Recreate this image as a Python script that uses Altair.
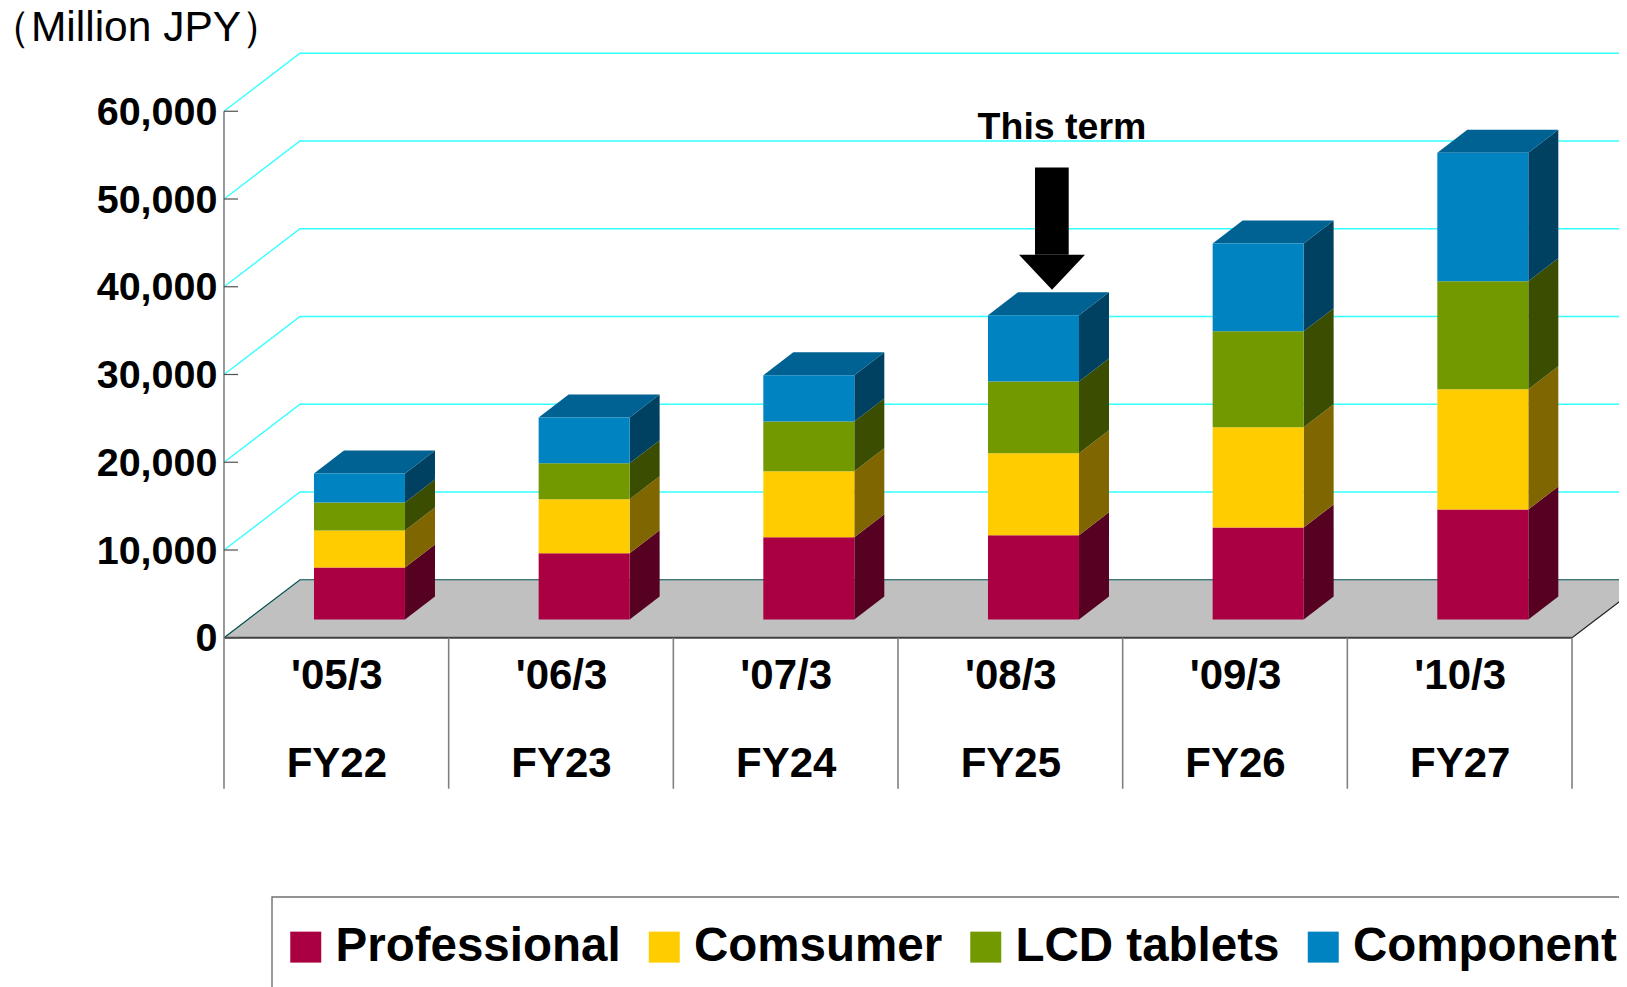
import altair as alt
import pandas as pd

# ---- data (million JPY) ----
periods = ["'05/3", "'06/3", "'07/3", "'08/3", "'09/3", "'10/3"]
fiscal = ["FY22", "FY23", "FY24", "FY25", "FY26", "FY27"]
series = ["Professional", "Comsumer", "LCD tablets", "Component"]
professional = [5930, 7555, 9380, 9605, 10485, 12535]
consumer = [4215, 6155, 7520, 9345, 11430, 13710]
lcd = [3190, 4105, 5665, 8170, 10940, 12310]
component = [3305, 5210, 5275, 7555, 9995, 14630]
ticks = [0, 10000, 20000, 30000, 40000, 50000, 60000]

front = ["#AA0042", "#FFCC00", "#739900", "#0083C1"]
side = ["#560022", "#806600", "#3A4D00", "#004162"]
top_face = "#006293"
FONT = "Liberation Sans"

# ---- geometry ----
W, H = 1611, 979
PX_X, PX_Y = 224.67, 87.75 / 10000  # px per category, px per unit
X0, Y0 = 224 - 8, 637.75 - 8       # where category 0 and value 0 fall
xs = alt.Scale(domain=[-X0 / PX_X, (W - X0) / PX_X], range=[0, W], nice=False, zero=False)
ys = alt.Scale(domain=[(Y0 - H) / PX_Y, Y0 / PX_Y], range=[H, 0], nice=False, zero=False)


def ux(px):
    return px / PX_X


def uy(px):
    return px / PX_Y


DEPTH_X, DEPTH_Y = ux(76), uy(58)      # floor / wall depth
BAR_X, BAR_Y = ux(30), uy(23)          # bar depth
BAR_W, BAR_C = ux(91), 0.603           # bar width, bar centre in its slot
LIFT = uy(18.25)                       # bars stand on the middle of the floor
N = len(periods)

label_rows = "[" + ",".join('["%s","%s"]' % (p, f) for p, f in zip(periods, fiscal)) + "]"

x_axis = alt.Axis(
    orient="bottom",
    offset=-(H + 8 - 638),
    values=[i + 0.5 for i in range(N)],
    domain=False,
    ticks=False,
    grid=False,
    labelExpr=label_rows + "[floor(datum.value)]",
    labelFont=FONT,
    labelFontWeight="bold",
    labelFontSize=42,
    labelColor="black",
    labelPadding=17,
    labelLineHeight=88,
    labelBaseline="top",
    labelFlush=False,
    labelOverlap=False,
)
y_axis = alt.Axis(
    orient="left",
    offset=-X0,
    values=ticks,
    domain=False,
    ticks=False,
    grid=False,
    format=",d",
    labelFont=FONT,
    labelFontWeight="bold",
    labelFontSize=39.5,
    labelColor="black",
    labelPadding=7,
    labelOffset=1,
    labelFlush=False,
    labelOverlap=False,
)


def X(f):
    return alt.X(f, type="quantitative", scale=xs, title=None, axis=x_axis)


def Y(f):
    return alt.Y(f, type="quantitative", scale=ys, title=None, stack=None, axis=y_axis)


# ---- tables ----
cols = [professional, consumer, lcd, component]
fr, sd, tp = [], [], []
for i in range(N):
    left = i + BAR_C - BAR_W / 2
    right = left + BAR_W
    base = LIFT
    for s, name in enumerate(series):
        v = cols[s][i]
        fr.append(dict(x=left, x2=right, y=base, y2=base + v, series=name, value=v, period=periods[i]))
        sd.append(dict(g=f"{i}", s=s, x=right, y=base, y2=base + v))
        sd.append(dict(g=f"{i}", s=s, x=right + BAR_X, y=base + BAR_Y, y2=base + v + BAR_Y))
        base += v
    tp.append(dict(g=f"{i}", y=base, x=left, x2=right))
    tp.append(dict(g=f"{i}", y=base + BAR_Y, x=left + BAR_X, x2=right + BAR_X))
fr, sd, tp = pd.DataFrame(fr), pd.DataFrame(sd), pd.DataFrame(tp)

grid = []
far = N + ux(200)
for t in ticks[1:]:
    grid.append(dict(t=t, o=0, x=0, y=t))
    grid.append(dict(t=t, o=1, x=DEPTH_X, y=t + DEPTH_Y))
    grid.append(dict(t=t, o=2, x=far, y=t + DEPTH_Y))
grid = pd.DataFrame(grid)

floor = pd.DataFrame([dict(y=0, x=0, x2=N), dict(y=DEPTH_Y, x=DEPTH_X, x2=N + DEPTH_X)])
floor_edge = pd.DataFrame(
    [dict(o=0, x=0, y=0), dict(o=1, x=DEPTH_X, y=DEPTH_Y), dict(o=2, x=far, y=DEPTH_Y)]
)
right_edge = pd.DataFrame([dict(o=0, x=N, y=0), dict(o=1, x=N + DEPTH_X, y=DEPTH_Y)])

slots = pd.DataFrame({"x": [float(i) for i in range(N + 1)], "y": [0.0] * (N + 1), "y2": [uy(-151)] * (N + 1)})
tick_df = pd.DataFrame({"y": ticks, "x": [0.0] * len(ticks), "x2": [ux(14)] * len(ticks)})

grid_l = alt.Chart(grid).mark_line(color="#33FFFF", strokeWidth=1.3, clip=True).encode(
    x=X("x"), y=Y("y"), detail="t:N", order="o:Q"
)
floor_l = alt.Chart(floor).mark_area(color="#C0C0C0", orient="horizontal", clip=True).encode(
    y=Y("y"), x=X("x"), x2="x2"
)
floor_e = alt.Chart(floor_edge).mark_line(color="#004D4D", strokeWidth=1.2, clip=True).encode(
    x=X("x"), y=Y("y"), order="o:Q"
)
right_e = alt.Chart(right_edge).mark_line(color="#222222", strokeWidth=1.2, clip=True).encode(
    x=X("x"), y=Y("y"), order="o:Q"
)
front_line = alt.Chart(pd.DataFrame({"x": [0.0], "x2": [float(N)], "y": [0.0]})).mark_rule(
    color="#404040", strokeWidth=2
).encode(x=X("x"), x2="x2", y=Y("y"))
yaxis_line = alt.Chart(pd.DataFrame({"x": [0.0], "y": [0.0], "y2": [ticks[-1]]})).mark_rule(
    color="#808080", strokeWidth=1.6
).encode(x=X("x"), y=Y("y"), y2="y2")
tick_l = alt.Chart(tick_df).mark_rule(color="#505050", strokeWidth=1.2).encode(
    x=X("x"), x2="x2", y=Y("y")
)
slot_l = alt.Chart(slots).mark_rule(color="#808080", strokeWidth=1.6).encode(
    x=X("x"), y=Y("y"), y2="y2"
)

side_layers = [
    alt.Chart(sd[sd.s == s]).mark_area(color=side[s], orient="vertical").encode(
        x=X("x"), y=Y("y"), y2="y2", detail="g:N"
    )
    for s in range(len(series))
]
top_l = alt.Chart(tp).mark_area(color=top_face, orient="horizontal").encode(
    y=Y("y"), x=X("x"), x2="x2", detail="g:N"
)
front_l = alt.Chart(fr).mark_bar().encode(
    x=X("x"),
    x2="x2",
    y=Y("y"),
    y2="y2",
    color=alt.Color(
        "series:N",
        scale=alt.Scale(domain=series, range=front),
        sort=series,
        legend=alt.Legend(
            orient="none",
            legendX=282 - 8,
            legendY=915,
            direction="horizontal",
            columns=4,
            title=None,
            symbolType="square",
            symbolSize=960,
            symbolStrokeWidth=0,
            labelFont=FONT,
            labelFontSize=47.5,
            labelFontWeight="bold",
            labelColor="black",
            labelOffset=6,
            columnPadding=19.5,
            padding=0,
            labelLimit=0,
        ),
    ),
)

# "This term" arrow above the FY25 bar
shaft = pd.DataFrame(
    [dict(x=ux(1035 - 224), x2=ux(1068.7 - 224), y=uy(638 - 167.7), y2=uy(638 - 255))]
)
head = pd.DataFrame(
    [
        dict(y=uy(638 - 255), x=ux(1019 - 224), x2=ux(1085 - 224)),
        dict(y=uy(638 - 290), x=ux(1052 - 224), x2=ux(1052 - 224)),
    ]
)
shaft_l = alt.Chart(shaft).mark_bar(color="black").encode(x=X("x"), x2="x2", y=Y("y"), y2="y2")
head_l = alt.Chart(head).mark_area(color="black", orient="horizontal").encode(
    y=Y("y"), x=X("x"), x2="x2"
)
term = alt.Chart(pd.DataFrame({"t": ["This term"]})).mark_text(
    font=FONT, fontWeight="bold", fontSize=37.5, color="black", align="center", baseline="alphabetic"
).encode(x=alt.value(1062 - 8), y=alt.value(139 - 8), text="t:N")
unit = alt.Chart(pd.DataFrame({"t": ["（Million JPY）"]})).mark_text(
    font=FONT, fontSize=42.5, color="black", align="center", baseline="alphabetic"
).encode(x=alt.value(136 - 8), y=alt.value(41 - 8), text="t:N")

legend_box = alt.Chart(pd.DataFrame({"a": [1]})).mark_rect(
    fill="white", stroke="#707070", strokeWidth=1.4
).encode(
    x=alt.value(272 - 8), x2=alt.value(W + 20), y=alt.value(897 - 8), y2=alt.value(H + 20)
)

chart = alt.layer(
    grid_l,
    floor_l,
    floor_e,
    right_e,
    front_line,
    yaxis_line,
    tick_l,
    slot_l,
    *side_layers,
    top_l,
    front_l,
    shaft_l,
    head_l,
    term,
    unit,
    legend_box,
).properties(
    width=W,
    height=H,
    padding=0,
    autosize=alt.AutoSizeParams(type="none"),
).configure_view(stroke=None)

chart.save("out.html", embed_options={"renderer": "svg", "actions": False})
